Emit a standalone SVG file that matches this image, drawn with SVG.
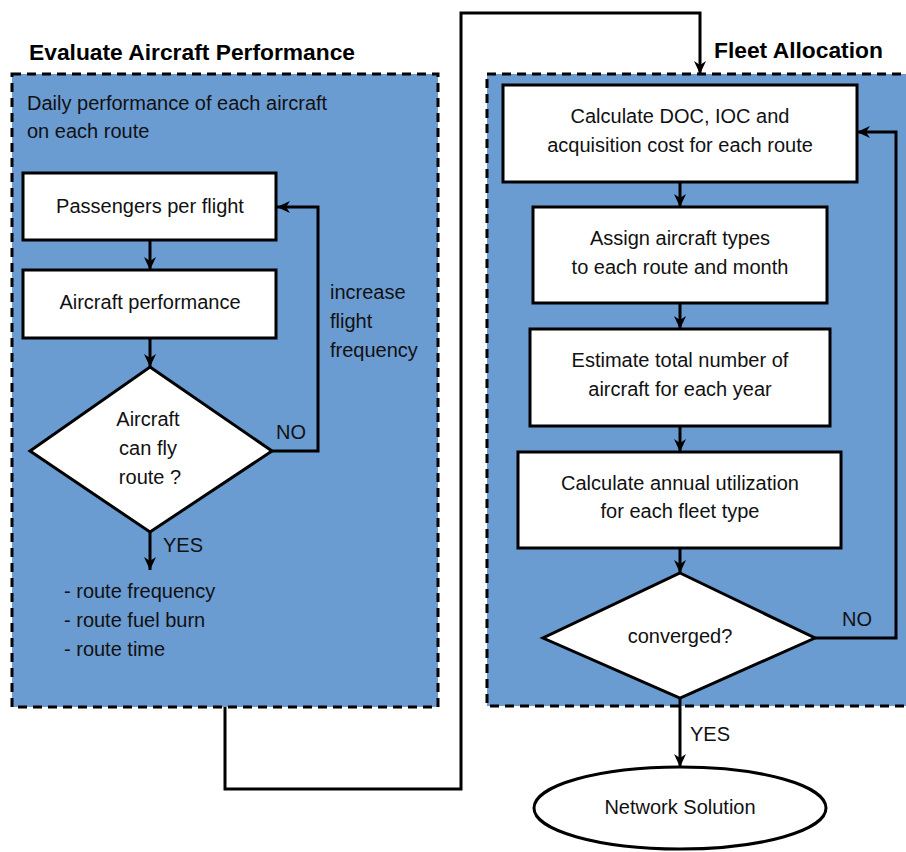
<svg xmlns="http://www.w3.org/2000/svg" width="906" height="852" viewBox="0 0 906 852">
  <style>
    .panel { fill: #6a9bd1; stroke: #000; stroke-width: 3; stroke-dasharray: 9 6; }
    .box { fill: #fff; stroke: #000; stroke-width: 3; }
    .edge { fill: none; stroke: #000; stroke-width: 3; }
    text { font-family: "Liberation Sans", Arial, sans-serif; font-size: 20px; fill: #111; }
    .title { font-weight: bold; font-size: 22.8px; fill: #000; }
    .mid { text-anchor: middle; }
  </style>
  <defs>
    <marker id="arrow" markerUnits="userSpaceOnUse" markerWidth="14" markerHeight="14" viewBox="0 0 14 14" refX="13" refY="7" orient="auto">
      <path d="M0,1 L13,7 L0,13 L4,7 z" fill="#000"/>
    </marker>
  </defs>

  <!-- panels -->
  <g id="panel-performance">
    <rect class="panel" x="12" y="74" width="426" height="633"/>
    <text class="title" x="29" y="60">Evaluate Aircraft Performance</text>
    <text x="27" y="110">Daily performance of each aircraft</text>
    <text x="27" y="138">on each route</text>
  </g>
  <g id="panel-fleet">
    <rect class="panel" x="487" y="74" width="440" height="632"/>
    <text class="title" x="714" y="58">Fleet Allocation</text>
  </g>

  <!-- connectors -->
  <g id="connectors">
    <path class="edge" d="M150,240 V270" marker-end="url(#arrow)"/>
    <path class="edge" d="M150,338 V367" marker-end="url(#arrow)"/>
    <path class="edge" d="M272,451 H318 V207 H277" marker-end="url(#arrow)"/>
    <path class="edge" d="M150,532 V570" marker-end="url(#arrow)"/>
    <path class="edge" d="M225,707 V789 H461 V13 H700 V74" marker-end="url(#arrow)"/>
    <path class="edge" d="M680,182 V207" marker-end="url(#arrow)"/>
    <path class="edge" d="M680,303 V329" marker-end="url(#arrow)"/>
    <path class="edge" d="M680,426 V452" marker-end="url(#arrow)"/>
    <path class="edge" d="M680,548 V573" marker-end="url(#arrow)"/>
    <path class="edge" d="M815,638 H896 V132 H857" marker-end="url(#arrow)"/>
    <path class="edge" d="M680,698 V767" marker-end="url(#arrow)"/>
    <text x="276" y="439">NO</text>
    <text x="163" y="552">YES</text>
    <text x="842" y="626">NO</text>
    <text x="690" y="741">YES</text>
    <text x="330" y="299">increase</text>
    <text x="330" y="328">flight</text>
    <text x="330" y="357">frequency</text>
  </g>

  <!-- left panel nodes -->
  <g id="passengers">
    <rect class="box" x="23" y="173" width="253" height="67"/>
    <text class="mid" x="150" y="213">Passengers per flight</text>
  </g>
  <g id="aircraft-performance">
    <rect class="box" x="23" y="270" width="253" height="68"/>
    <text class="mid" x="150" y="309">Aircraft performance</text>
  </g>
  <g id="can-fly">
    <polygon class="box" points="150,367 272,451 150,532 30,451"/>
    <text class="mid" x="148" y="426">Aircraft</text>
    <text class="mid" x="148" y="455">can fly</text>
    <text class="mid" x="150" y="484">route ?</text>
  </g>
  <g id="outputs">
    <text x="64" y="598">- route frequency</text>
    <text x="64" y="627">- route fuel burn</text>
    <text x="64" y="656">- route time</text>
  </g>

  <!-- right panel nodes -->
  <g id="costs">
    <rect class="box" x="503" y="85" width="354" height="97"/>
    <text class="mid" x="680" y="123">Calculate DOC, IOC and</text>
    <text class="mid" x="680" y="152">acquisition cost for each route</text>
  </g>
  <g id="assign-types">
    <rect class="box" x="533" y="207" width="294" height="96"/>
    <text class="mid" x="680" y="245">Assign aircraft types</text>
    <text class="mid" x="680" y="274">to each route and month</text>
  </g>
  <g id="fleet-size">
    <rect class="box" x="530" y="329" width="300" height="97"/>
    <text class="mid" x="680" y="367">Estimate total number of</text>
    <text class="mid" x="680" y="396">aircraft for each year</text>
  </g>
  <g id="utilization">
    <rect class="box" x="518" y="452" width="323" height="96"/>
    <text class="mid" x="680" y="490">Calculate annual utilization</text>
    <text class="mid" x="680" y="518">for each fleet type</text>
  </g>
  <g id="converged">
    <polygon class="box" points="680,573 815,638 680,698 543,638"/>
    <text class="mid" x="680" y="643">converged?</text>
  </g>
  <g id="network-solution">
    <ellipse class="box" cx="680" cy="808" rx="146" ry="41"/>
    <text class="mid" x="680" y="814">Network Solution</text>
  </g>
</svg>
